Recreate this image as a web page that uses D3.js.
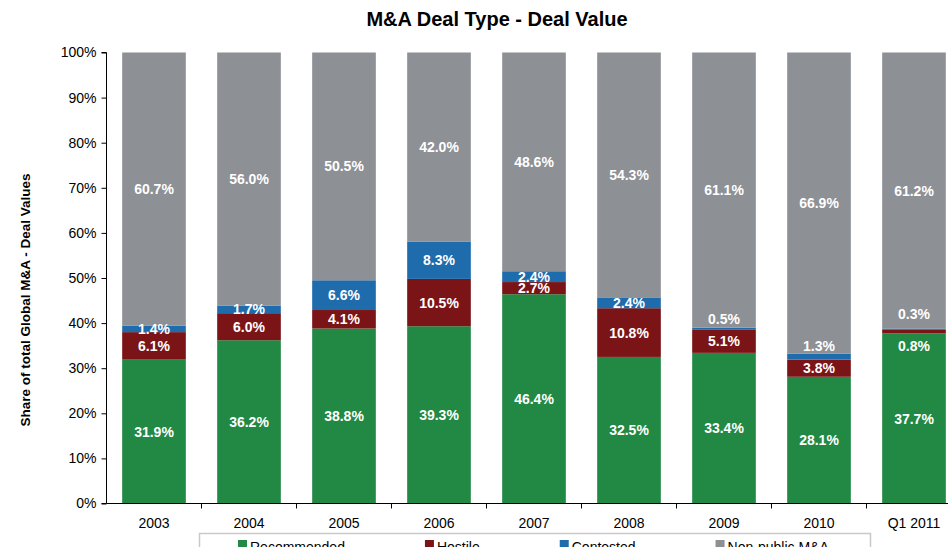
<!DOCTYPE html>
<html>
<head>
<meta charset="utf-8">
<script src="https://cdn.jsdelivr.net/npm/d3@7"></script>
<style>
  html, body { margin: 0; padding: 0; background: #fff; overflow: hidden; }
  svg { display: block; font-family: "Liberation Sans", Arial, sans-serif; }
</style>
</head>
<body>
<div id="chart"></div>
<script>
// chart data (percent of total deal value)
const years = ['2003', '2004', '2005', '2006', '2007', '2008', '2009', '2010', 'Q1 2011'];
const recommended = [31.9, 36.2, 38.8, 39.3, 46.4, 32.5, 33.4, 28.1, 37.7];
const hostile = [6.1, 6.0, 4.1, 10.5, 2.7, 10.8, 5.1, 3.8, 0.8];
const contested = [1.4, 1.7, 6.6, 8.3, 2.4, 2.4, 0.5, 1.3, 0.3];
const nonPublic = [60.7, 56.0, 50.5, 42.0, 48.6, 54.3, 61.1, 66.9, 61.2];
const seriesNames = ['Recommended', 'Hostile', 'Contested', 'Non-public M&A'];
const yTicks = [0, 10, 20, 30, 40, 50, 60, 70, 80, 90, 100];

const colors = ['#218944', '#7b1416', '#1f6cad', '#8d9095'];

// label nudges for the thin segments (pixels, by series and year)
const labelNudge = {
  'Contested|2009': -10,
  'Contested|2010': -11,
  'Contested|Q1 2011': -15,
  'Hostile|Q1 2011': 14
};

const width = 948;
const height = 547;
const band = 95;
const x0 = 106.5;
const yTop = 52.5;
const yBottom = 503.5;

const rows = years.map((year, i) => ({
  year,
  'Recommended': recommended[i],
  'Hostile': hostile[i],
  'Contested': contested[i],
  'Non-public M&A': nonPublic[i]
}));

const svg = d3.select('#chart')
  .append('svg')
  .attr('width', width)
  .attr('height', height);

const x = d3.scaleBand()
  .domain(years)
  .range([x0, x0 + band * years.length])
  .paddingInner(0.33)
  .paddingOuter(0.165);

const y = d3.scaleLinear()
  .domain([0, 100])
  .range([yBottom, yTop]);

const color = d3.scaleOrdinal().domain(seriesNames).range(colors);

const stacked = d3.stack().keys(seriesNames)(rows);
// the top series always fills up to 100%
const segTop = d => d.key === 'Non-public M&A' ? 100 : Math.min(d.p[1], 100);

const segments = stacked.flatMap(s => s.map(p => ({key: s.key, p})));

// bars
svg.append('g')
  .selectAll('rect')
  .data(segments)
  .enter()
  .append('rect')
  .attr('fill', d => color(d.key))
  .attr('x', d => x(d.p.data.year))
  .attr('width', x.bandwidth())
  .attr('y', d => y(segTop(d)))
  .attr('height', d => y(d.p[0]) - y(segTop(d)));

// value labels, drawn over all bars
svg.append('g')
  .selectAll('text')
  .data(segments)
  .enter()
  .append('text')
  .attr('x', d => x(d.p.data.year) + x.bandwidth() / 2)
  .attr('y', d => (y(d.p[0]) + y(Math.min(d.p[1], 100))) / 2 + (labelNudge[d.key + '|' + d.p.data.year] || 0))
  .attr('dy', '0.36em')
  .attr('text-anchor', 'middle')
  .attr('fill', '#fff')
  .style('font-size', '14px')
  .style('font-weight', 'bold')
  .text(d => d.p.data[d.key].toFixed(1) + '%');

// y axis
const yAxis = svg.append('g')
  .attr('transform', `translate(${x0},0)`)
  .call(d3.axisLeft(y).tickValues(yTicks).tickSize(5).tickPadding(5).tickFormat(d => d + '%'));
yAxis.selectAll('text').style('font-size', '14px').attr('fill', '#000');
yAxis.selectAll('line, path').attr('stroke', '#000');
yAxis.select('.domain').attr('d', `M-5,${yTop}H0V${yBottom}H-5`);

// x axis: ticks between categories
const xAxis = svg.append('g')
  .attr('transform', `translate(0,${yBottom})`);
xAxis.append('line')
  .attr('x1', x0).attr('x2', width)
  .attr('stroke', '#000');
xAxis.selectAll('line.tick')
  .data(d3.range(1, years.length))
  .enter()
  .append('line')
  .attr('class', 'tick')
  .attr('x1', i => x0 + i * band)
  .attr('x2', i => x0 + i * band)
  .attr('y1', 0).attr('y2', 5)
  .attr('stroke', '#000');
xAxis.selectAll('text')
  .data(years)
  .enter()
  .append('text')
  .attr('x', d => x(d) + x.bandwidth() / 2)
  .attr('y', 24)
  .attr('text-anchor', 'middle')
  .style('font-size', '14px')
  .text(d => d);

// title
svg.append('text')
  .attr('x', 497)
  .attr('y', 26)
  .attr('text-anchor', 'middle')
  .style('font-size', '20px')
  .style('font-weight', 'bold')
  .text('M&A Deal Type - Deal Value');

// y axis title
svg.append('text')
  .attr('transform', 'translate(25,300) rotate(-90)')
  .attr('text-anchor', 'middle')
  .attr('dy', '0.36em')
  .style('font-size', '13.5px')
  .style('font-weight', 'bold')
  .text('Share of total Global M&A - Deal Values');

// legend (cut off by the bottom edge, as in the source)
const legend = svg.append('g');
legend.append('rect')
  .attr('x', 199.5)
  .attr('y', 533.5)
  .attr('width', 671)
  .attr('height', 40)
  .attr('fill', '#fff')
  .attr('stroke', '#c9c9c9')
  .attr('stroke-width', 1.5);

let lx = 238;
seriesNames.forEach(name => {
  const item = legend.append('g').attr('transform', `translate(${lx},0)`);
  item.append('rect')
    .attr('x', 0).attr('y', 540)
    .attr('width', 9).attr('height', 9)
    .attr('fill', color(name));
  const t = item.append('text')
    .attr('x', 12).attr('y', 552)
    .style('font-size', '14px')
    .text(name);
  lx += 12 + t.node().getComputedTextLength() + 80;
});
</script>
</body>
</html>
